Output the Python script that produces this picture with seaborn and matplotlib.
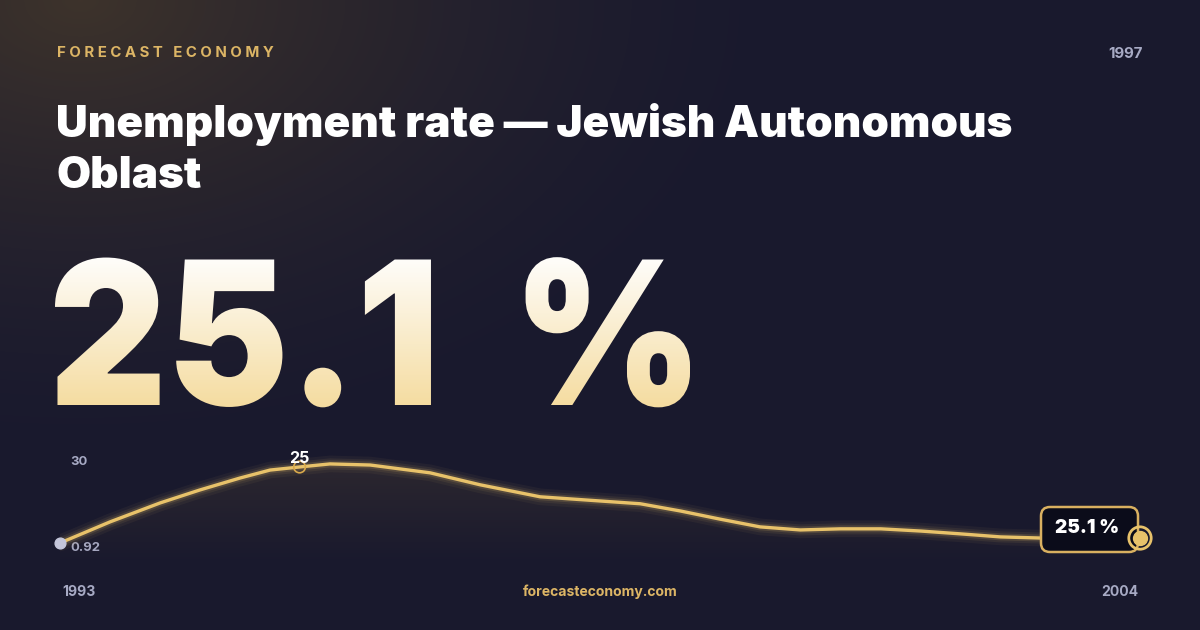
import numpy as np
import pandas as pd
import matplotlib
matplotlib.use("Agg")
import matplotlib.pyplot as plt
import seaborn as sns
from matplotlib.textpath import TextPath
from matplotlib.font_manager import FontProperties
from matplotlib.patches import PathPatch, FancyBboxPatch
from matplotlib.transforms import Affine2D

# data
years = [1993.0, 1993.51, 1994.02, 1994.42, 1994.83, 1995.14, 1995.44, 1995.75, 1996.16,
         1996.77, 1997.28, 1997.89, 1998.5, 1998.91, 1999.32, 1999.72, 2000.13, 2000.54,
         2000.95, 2001.36, 2001.77, 2002.17, 2002.58, 2002.99, 2004.0]
rate = [0.92, 8.5, 15.3, 19.9, 24.2, 27.1, 28.2, 29.3, 28.9, 26.1, 21.8, 17.5, 16.0, 15.0,
        12.4, 9.5, 6.7, 5.6, 6.0, 6.0, 5.2, 4.2, 3.1, 2.7, 2.7]
peak_idx = 6
title = "Unemployment rate — Jewish Autonomous\nOblast"
big_value = "25.1 %"
peak_label = "25"
y_labels = ["30", "0.92"]
df = pd.DataFrame({"year": years, "rate": rate})

sns.set_theme(style="white")
plt.rcParams["font.family"] = ["Inter", "DejaVu Sans"]
GOLD = "#e8c26a"
W, H = 1200, 630
fig = plt.figure(figsize=(12, 6.3), dpi=100)

# background with a warm glow top-left
bg = fig.add_axes([0, 0, 1, 1])
yy, xx = np.mgrid[0:H, 0:W]
d = np.sqrt(((xx - 80) / 700.0) ** 2 + ((yy - 0) / 450.0) ** 2)
g = np.clip(1 - d, 0, 1) ** 1.5
base = np.array([0.10, 0.10, 0.18])
warm = np.array([0.24, 0.20, 0.17])
img = base[None, None, :] * (1 - g[..., None]) + warm[None, None, :] * g[..., None]
bg.imshow(img, extent=[0, W, H, 0], aspect="auto")
bg.set_xlim(0, W)
bg.set_ylim(H, 0)
bg.axis("off")

def px(s):
    return s * 0.72

bg.text(57, 53, "F O R E C A S T   E C O N O M Y", color="#dcb565", fontsize=px(15),
        fontweight="bold", va="center", ha="left")
bg.text(1143, 54, "1997", color="#a7aac4", fontsize=px(15), fontweight="bold", va="center", ha="right")
bg.text(56, 150, title, color="white", fontsize=px(44), fontweight="black", va="center",
        ha="left", linespacing=1.3)

# big value with vertical gradient
fp = FontProperties(family="Inter", weight="black")
tp = TextPath((0, 0), big_value.replace(" ", "  "), size=200, prop=fp)
ext = tp.get_extents()
sx = 635 / ext.width
tr = Affine2D().translate(-ext.x0, 0).scale(sx, -1).translate(55, 405)
patch = PathPatch(tr.transform_path(tp), facecolor="none", edgecolor="none")
bg.add_patch(patch)
grad = np.linspace(0, 1, 200)[:, None]
top = np.array([1.0, 1.0, 1.0])
bot = np.array([0.96, 0.86, 0.62])
gimg = top[None, None, :] * (1 - grad[..., None]) + bot[None, None, :] * grad[..., None]
gimg = np.repeat(gimg, 2, axis=1)
im = bg.imshow(gimg, extent=[40, 720, 410, 250], aspect="auto")
im.set_clip_path(patch)

# line chart
ax = fig.add_axes([0.05, (H - 565) / H, 0.9, 110 / H])
ax.patch.set_alpha(0)
poly = ax.fill_between(df["year"], df["rate"], -6.98, color="none")
fgrad = np.linspace(0.22, 0.0, 100)[:, None]
fimg = np.zeros((100, 2, 4))
fimg[..., 0], fimg[..., 1], fimg[..., 2] = 0.45, 0.36, 0.22
fimg[..., 3] = fgrad
fi = ax.imshow(fimg, extent=[1993, 2004, -6.98, 30], aspect="auto", zorder=1)
fi.set_clip_path(poly.get_paths()[0], transform=ax.transData)
for lw, a in [(12, 0.05), (8, 0.08), (5, 0.15)]:
    sns.lineplot(data=df, x="year", y="rate", ax=ax, color=GOLD, lw=lw, alpha=a, zorder=2)
sns.lineplot(data=df, x="year", y="rate", ax=ax, color=GOLD, lw=2.4, zorder=3)
ax.set_xlim(1993, 2004)
ax.set_ylim(-6.98, 32.5)
ax.axis("off")

ax.scatter([years[0]], [rate[0]], s=60, color="#c4c6da", zorder=5, clip_on=False)
ax.scatter([years[peak_idx]], [rate[peak_idx]], s=70, facecolor="none", edgecolor="#d9a94c",
           lw=1.2, zorder=5)
ax.annotate(peak_label, (years[peak_idx], rate[peak_idx]), xytext=(0, 1), textcoords="offset points",
            ha="center", va="bottom", color="white", fontsize=px(16), fontweight="bold", zorder=6)

# end label box (pixel coords, inside the chart axes so markers sit above it)
box = FancyBboxPatch((1041, 507), 97, 45, boxstyle="round,pad=0,rounding_size=9",
                     facecolor="#0b0c1a", edgecolor="#d9b060", lw=1.8, zorder=4,
                     transform=bg.transData, clip_on=False)
ax.add_patch(box)
ax.text(1087, 528, big_value, color="white", fontsize=px(19), fontweight="black",
        ha="center", va="center", zorder=7, transform=bg.transData)
ax.scatter([years[-1]], [rate[-1]], s=260, facecolor="none", edgecolor=GOLD, lw=2, zorder=6, clip_on=False)
ax.scatter([years[-1]], [rate[-1]], s=100, color=GOLD, zorder=6, clip_on=False)

bg.text(70, 462, y_labels[0], color="#a7aac4", fontsize=px(13), fontweight="bold", va="center")
bg.text(70, 548, y_labels[1], color="#a7aac4", fontsize=px(13), fontweight="bold", va="center")
bg.text(62, 592, "1993", color="#a7aac4", fontsize=px(14), fontweight="bold", va="center")
bg.text(1138, 592, "2004", color="#a7aac4", fontsize=px(14), fontweight="bold", va="center", ha="right")
bg.text(600, 592, "forecasteconomy.com", color="#dcb565", fontsize=px(14), fontweight="bold",
        va="center", ha="center")

fig.savefig("out.png", dpi=100)
